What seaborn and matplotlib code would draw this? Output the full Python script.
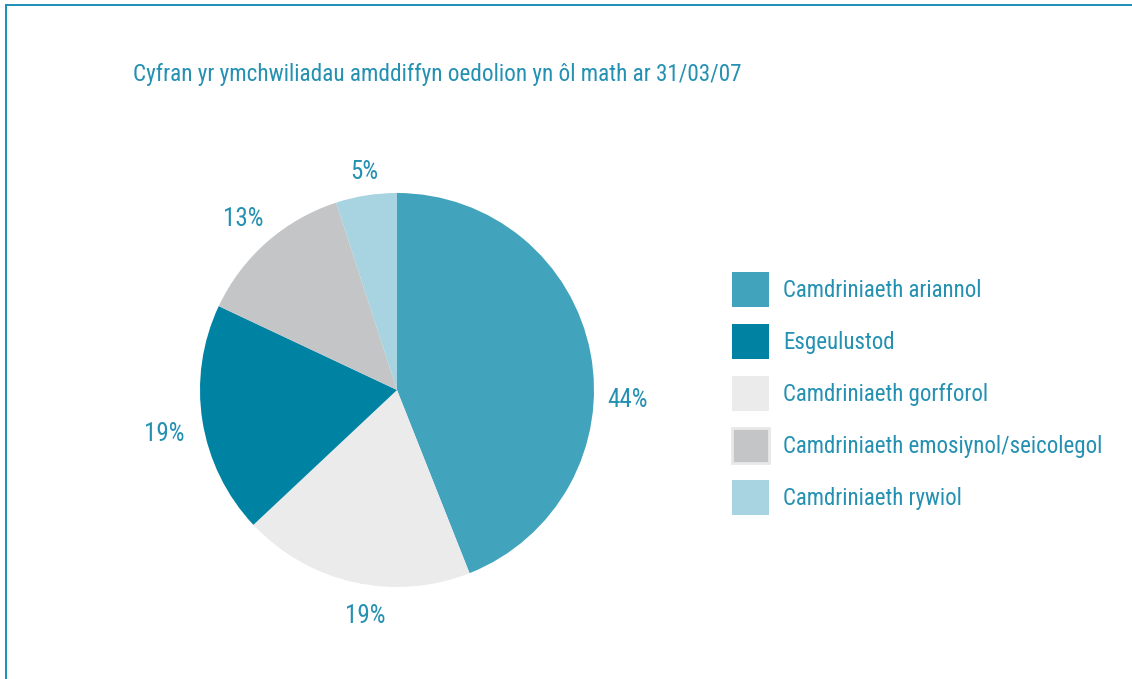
import matplotlib
matplotlib.use("Agg")
import numpy as np
import matplotlib.pyplot as plt
import seaborn as sns
from matplotlib import font_manager
from matplotlib.patches import Patch
from matplotlib.lines import Line2D

# -----------------------------
# Data
# -----------------------------
title = "Cyfran yr ymchwiliadau amddiffyn oedolion yn ôl math ar 31/03/07"
slice_labels = ["Camdriniaeth ariannol", "Camdriniaeth gorfforol", "Esgeulustod",
                "Camdriniaeth emosiynol/seicolegol", "Camdriniaeth rywiol"]
slice_values = [44, 19, 19, 13, 5]
slice_colors = ["#41a3bc", "#ebebeb", "#0082a3", "#c4c5c7", "#a8d3e0"]

# legend order differs from slice order
legend_labels = ["Camdriniaeth ariannol", "Esgeulustod", "Camdriniaeth gorfforol",
                 "Camdriniaeth emosiynol/seicolegol", "Camdriniaeth rywiol"]

# where each percentage label sits (angle in degrees, distance in radii)
label_angles = [-2.5, -98, 190.7, 132, 98.4]
label_dists = [1.17, 1.16, 1.20, 1.17, 1.12]

text_color = "#2490b2"
frame_color = "#1a8fb8"

sns.set_style("white")

available = {f.name for f in font_manager.fontManager.ttflist}
family = "DejaVu Sans"
for cand in ["Roboto Condensed", "Liberation Sans Narrow", "Roboto", "Liberation Sans"]:
    if cand in available:
        family = cand
        break
plt.rcParams["font.family"] = [family, "DejaVu Sans"]

W, H = 1132, 679
fig = plt.figure(figsize=(W / 100, H / 100), dpi=100)

# pie axes: center (397, 390), radius ~197 px
cx, cy, r = 397, 390, 197
ax = fig.add_axes([(cx - r) / W, 1 - (cy + r) / H, 2 * r / W, 2 * r / H])
wedges, texts, autotexts = ax.pie(
    slice_values,
    colors=slice_colors,
    startangle=90,
    counterclock=False,
    autopct="%d%%",
    pctdistance=1.17,
    radius=1,
    wedgeprops={"linewidth": 0},
    textprops={"color": text_color, "fontsize": 18},
)
for t, a, d in zip(autotexts, label_angles, label_dists):
    t.set_position((d * np.cos(np.radians(a)), d * np.sin(np.radians(a))))
ax.set_xlim(-1, 1)
ax.set_ylim(-1, 1)
ax.set_aspect("equal")

fig.text(133 / W, 1 - 75 / H, title, color=text_color, fontsize=16.7,
         ha="left", va="center")

color_map = dict(zip(slice_labels, slice_colors))
handles = []
for l in legend_labels:
    if "emosiynol" in l:
        handles.append(Patch(facecolor=color_map[l], edgecolor="#e8e8e8", linewidth=2))
    else:
        handles.append(Patch(facecolor=color_map[l], edgecolor="none"))
fs = 16.5
leg = fig.legend(
    handles, legend_labels,
    loc="upper left",
    bbox_to_anchor=(732 / W, 1 - 272 / H),
    bbox_transform=fig.transFigure,
    frameon=False,
    fontsize=fs,
    handlelength=1.62,
    handleheight=2.0,
    labelspacing=0.72,
    handletextpad=0.6,
    borderpad=0,
    borderaxespad=0,
)
for t in leg.get_texts():
    t.set_color(text_color)

# frame lines (top and left)
fig.add_artist(Line2D([6 / W, 1], [1 - 5 / H, 1 - 5 / H], color=frame_color,
                      lw=1.4, transform=fig.transFigure))
fig.add_artist(Line2D([6 / W, 6 / W], [0, 1 - 5 / H], color=frame_color,
                      lw=1.4, transform=fig.transFigure))

fig.savefig("out.png", dpi=100)
plt.close(fig)
